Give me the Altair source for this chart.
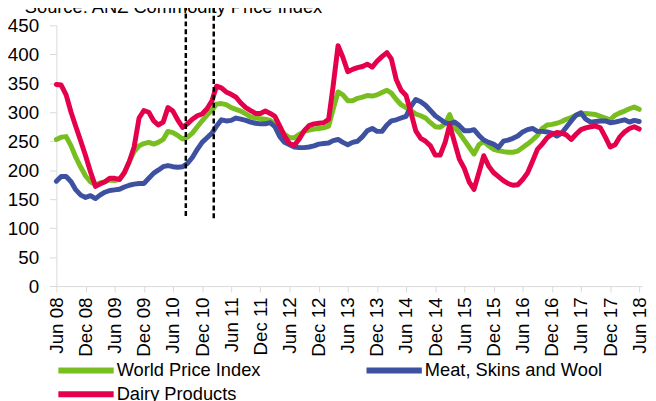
import altair as alt
import pandas as pd

# ── Data (monthly Jun 08 .. Jun 18) ───────────────────────────────────────────
start = pd.Timestamp("2008-06-01")
months = [(start + pd.DateOffset(months=i)).strftime("%Y-%m-%dT00:00:00") for i in range(121)]

world = [253, 257, 258, 242, 222, 205, 190, 180, 175, 178, 180, 183, 182, 184, 195, 215,
         232, 242, 246, 248, 245, 248, 253, 267, 265, 260, 254, 257, 264, 275, 285, 295,
         304, 314, 315, 313, 308, 305, 302, 297, 292, 290, 289, 288, 286, 280, 270, 262,
         256, 256, 262, 267, 269, 271, 272, 273, 276, 305, 335, 330, 320, 320, 324, 326,
         329, 328, 330, 334, 338, 333, 322, 313, 308, 303, 297, 294, 290, 282, 275, 274,
         280, 296, 274, 264, 252, 240, 228, 244, 250, 242, 236, 234, 232, 231, 231, 233,
         239, 245, 252, 260, 272, 278, 279, 281, 284, 288, 291, 295, 297, 298, 297, 296,
         293, 290, 287, 295, 299, 302, 306, 309, 305]

meat = [181, 189, 189, 180, 166, 157, 153, 156, 151, 157, 162, 165, 166, 167, 171, 174,
        176, 177, 177, 186, 195, 200, 206, 208, 206, 205, 206, 212, 222, 236, 248, 256,
        264, 276, 287, 285, 286, 290, 288, 286, 283, 281, 280, 280, 282, 275, 258, 248,
        244, 240, 239, 239, 240, 242, 245, 246, 247, 251, 253, 248, 244, 248, 250, 258,
        268, 272, 267, 267, 278, 285, 287, 290, 293, 310, 322, 318, 312, 303, 294, 288,
        282, 280, 283, 277, 268, 268, 270, 260, 252, 248, 245, 239, 250, 252, 255, 259,
        266, 270, 272, 267, 267, 266, 264, 259, 264, 274, 285, 295, 299, 288, 283, 284,
        285, 285, 282, 283, 285, 287, 283, 286, 284]

dairy = [348, 347, 330, 300, 275, 250, 225, 197, 172, 176, 180, 186, 186, 184, 196, 215,
         240, 290, 303, 300, 285, 278, 283, 308, 302, 287, 274, 280, 288, 294, 297, 306,
         320, 345, 342, 335, 331, 326, 316, 308, 303, 298, 298, 302, 298, 293, 276, 259,
         246, 243, 254, 268, 277, 280, 281, 282, 288, 345, 415, 395, 370, 374, 377, 379,
         383, 378, 388, 396, 403, 392, 356, 338, 329, 300, 268, 255, 250, 242, 226, 226,
         248, 278, 248, 219, 203, 180, 167, 196, 225, 207, 196, 189, 182, 177, 174, 175,
         184, 195, 215, 236, 245, 256, 262, 265, 264, 261, 253, 262, 270, 273, 275, 276,
         273, 257, 240, 244, 258, 266, 272, 275, 271]

series_names = ["World Price Index", "Meat, Skins and Wool", "Dairy Products"]
series_colors = ["#78BE20", "#3E50A0", "#E5004B"]

tick_dates = [alt.DateTime(year=y, month=m, date=1)
              for y in range(2008, 2019) for m in (6, 12)][:-1]
y_ticks = list(range(0, 451, 50))

# dashed marker lines
marker_dates = ["2010-08-21T00:00:00", "2011-02-12T00:00:00"]
marker_low = [121, 117]
marker_high = [490, 490]

title_text = "Source: ANZ Commodity Price Index"

# ── Tables ───────────────────────────────────────────────────────────────────
lines_df = pd.concat([
    pd.DataFrame({"date": months, "value": vals, "series": name})
    for name, vals in zip(series_names, [world, meat, dairy])
], ignore_index=True)

markers_df = pd.DataFrame({"date": marker_dates, "low": marker_low, "high": marker_high})

FONT = "Liberation Sans"

x_scale = alt.Scale(domain=[alt.DateTime(year=2008, month=6, date=1),
                            alt.DateTime(year=2018, month=6, date=19)])
y_scale = alt.Scale(domain=[0, 450])

# identical axis objects in every layer so the merged axis keeps them
x_axis = alt.Axis(values=tick_dates, format="%b %y", labelAngle=270, title=None,
                  tickSize=6, labelPadding=5, labelOverlap=False, labelFlush=False,
                  labelFontSize=19)
y_axis = alt.Axis(values=y_ticks, title=None, tickSize=7, labelPadding=11,
                  labelOverlap=False, labelFlush=False, labelFontSize=19)

lines = alt.Chart(lines_df).mark_line(
    strokeWidth=5, strokeJoin="round", strokeCap="round"
).encode(
    x=alt.X("date:T", scale=x_scale, axis=x_axis),
    y=alt.Y("value:Q", scale=y_scale, axis=y_axis),
    color=alt.Color("series:N",
                    scale=alt.Scale(domain=series_names, range=series_colors),
                    legend=alt.Legend(title=None, orient="none", direction="horizontal",
                                      legendX=-1, legendY=340, columns=2,
                                      symbolType="stroke", symbolSize=3136,
                                      symbolStrokeWidth=6, clipHeight=19,
                                      labelFontSize=18.5, labelFont=FONT,
                                      labelColor="#000000", columnPadding=104,
                                      rowPadding=5, labelOffset=0, labelLimit=400,
                                      padding=0)),
    detail="series:N",
)

markers = alt.Chart(markers_df).mark_rule(
    color="#000000", strokeWidth=2.5, strokeDash=[5, 3]
).encode(
    x=alt.X("date:T", scale=x_scale, axis=x_axis),
    y=alt.Y("low:Q", scale=y_scale, axis=y_axis),
    y2="high:Q",
)

title = alt.Chart(pd.DataFrame({"t": [title_text]})).mark_text(
    align="left", baseline="alphabetic", fontSize=18.5, font=FONT, color="#000000"
).encode(
    x=alt.value(-32), y=alt.value(-12), text="t:N"
)

chart = alt.layer(lines, markers, title).properties(
    width=593, height=264,
    autosize=alt.AutoSizeParams(type="none"),
    padding={"left": 49, "top": 15, "right": 6, "bottom": 130},
).configure_view(
    strokeWidth=0
).configure_axis(
    grid=False, domainColor="#D9D9D9", tickColor="#D9D9D9",
    labelFont=FONT, labelFontSize=19, labelColor="#000000"
)

chart.save("out.html", embed_options={"renderer": "svg", "actions": False})
